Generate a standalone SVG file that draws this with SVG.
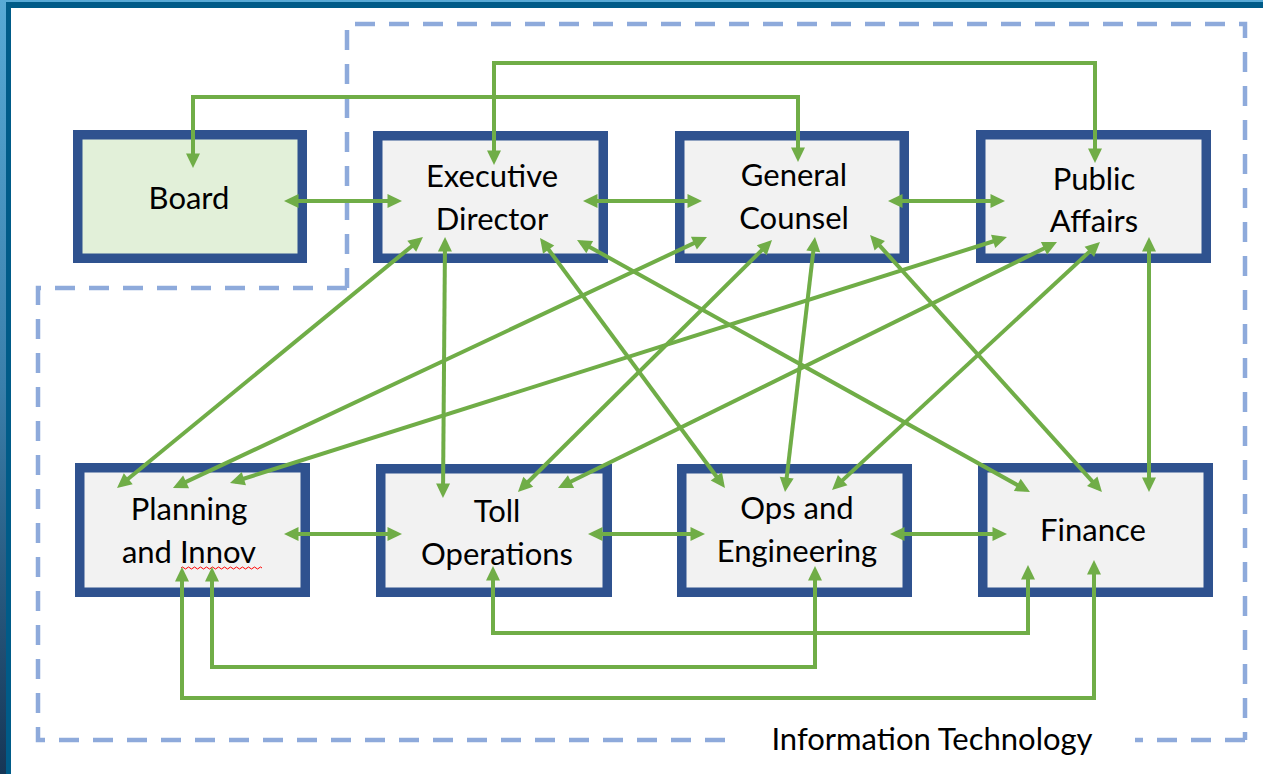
<svg xmlns="http://www.w3.org/2000/svg" width="1263" height="774" viewBox="0 0 1263 774">
<defs>
<linearGradient id="bg" x1="0" y1="0" x2="0" y2="1">
<stop offset="0" stop-color="#58aad6"/>
<stop offset="0.5" stop-color="#3a7fab"/>
<stop offset="1" stop-color="#163656"/>
</linearGradient>
<marker id="ah" markerUnits="userSpaceOnUse" markerWidth="20" markerHeight="20" refX="0" refY="0" orient="auto-start-reverse" overflow="visible">
<path d="M-9.5,-7 L5,0 L-9.5,7 Z" fill="#70ad47"/>
</marker>
<style>
.node rect{stroke:#2f528f;stroke-width:9.5}
.grey rect{fill:#f2f2f2}
.green rect{fill:#e2f0d9}
text{font-family:Lato,"Liberation Sans",sans-serif;font-size:31px;fill:#000;text-anchor:middle}
.conn path{fill:none;stroke:#70ad47;stroke-width:4;marker-start:url(#ah);marker-end:url(#ah)}
.it{fill:none;stroke:#8eaadb;stroke-width:4.5;stroke-dasharray:20 14}
</style>
</defs>
<rect x="0" y="0" width="1263" height="774" fill="url(#bg)"/>
<rect x="6" y="2" width="1257" height="772" fill="#005b88"/>
<rect x="11" y="8" width="1252" height="766" fill="#ffffff"/>

<g id="it-boundary">
<path class="it" d="M347,288 V24 H1245 V740"/>
<path class="it" d="M347,288 H38 V740 H728"/>
<path class="it" d="M1245,740 H1135"/>
<text x="932" y="750">Information Technology</text>
</g>

<g id="board" class="node green"><rect x="77.75" y="134.75" width="224.5" height="123.5"/><text x="189" y="209">Board</text></g>
<g id="exec" class="node grey"><rect x="377.75" y="135.75" width="225.5" height="122.5"/><text x="492" y="187">Executive</text><text x="492" y="230">Director</text></g>
<g id="counsel" class="node grey"><rect x="679.75" y="135.75" width="224.5" height="122.5"/><text x="794" y="186">General</text><text x="794" y="229">Counsel</text></g>
<g id="public" class="node grey"><rect x="980.75" y="134.75" width="225.5" height="123.5"/><text x="1094" y="190">Public</text><text x="1094" y="232">Affairs</text></g>
<g id="planning" class="node grey"><rect x="79.75" y="467.75" width="225.5" height="124.5"/><text x="189" y="520">Planning</text><text x="189" y="563">and Innov</text><path d="M181,568 q1.5,-2 3,0 t3,0 t3,0 t3,0 t3,0 t3,0 t3,0 t3,0 t3,0 t3,0 t3,0 t3,0 t3,0 t3,0 t3,0 t3,0 t3,0 t3,0 t3,0 t3,0 t3,0 t3,0 t3,0 t3,0 t3,0 t3,0 t3,0" fill="none" stroke="#ff0000" stroke-width="1"/></g>
<g id="toll" class="node grey"><rect x="380.75" y="468.75" width="226.5" height="123.5"/><text x="497" y="522">Toll</text><text x="497" y="565">Operations</text></g>
<g id="ops" class="node grey"><rect x="681.75" y="468.75" width="225.5" height="123.5"/><text x="797" y="519">Ops and</text><text x="797" y="562">Engineering</text></g>
<g id="finance" class="node grey"><rect x="982.75" y="467.75" width="225.5" height="124.5"/><text x="1093" y="541">Finance</text></g>

<g id="connectors" class="conn">
<path d="M289,201 H397"/>
<path d="M588,201 H697"/>
<path d="M893,201 H1000"/>
<path d="M289,534 H397"/>
<path d="M593,534 H700"/>
<path d="M895,534 H1002"/>
<path d="M193,163 V97 H798 V157"/>
<path d="M494,160 V63 H1095 V158"/>
<path d="M212,572 V667 H815 V571"/>
<path d="M182,572 V698 H1094 V565"/>
<path d="M493,571 V633 H1028 V570"/>
<path d="M445,242 L443,493"/>
<path d="M1149,242 V487"/>
<path d="M814.4,242 L785.6,487"/>
<path d="M419.1,240.2 L120.9,484.8"/>
<path d="M702.5,239.1 L177.5,485.9"/>
<path d="M1002.2,238.5 L234.8,481.5"/>
<path d="M768.5,243.5 L521.5,488.5"/>
<path d="M1052.5,244.2 L562.5,485.8"/>
<path d="M543,242 L722,484"/>
<path d="M1096.3,245.4 L835.7,486.6"/>
<path d="M581.4,242.4 L1025.6,489.6"/>
<path d="M873.4,238.7 L1098.6,488.3"/>
</g>
</svg>
